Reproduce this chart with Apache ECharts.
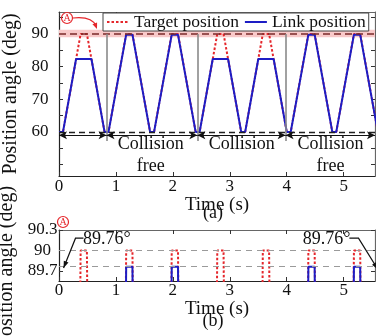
<!DOCTYPE html>
<html><head><meta charset="utf-8">
<script src="https://cdn.jsdelivr.net/npm/echarts@6/dist/echarts.min.js"></script>
<style>html,body{margin:0;padding:0;background:#fff}#c{width:376px;height:336px}</style>
</head><body><div id="c"></div>
<script>
// ---- data ----
const timeTarget = [0, 0.07, 0.38, 0.49, 0.80, 0.87, 1.18, 1.29, 1.60, 1.67, 1.98, 2.09, 2.40, 2.47, 2.78, 2.89, 3.20, 3.27, 3.58, 3.69, 4.00, 4.07, 4.38, 4.49, 4.80, 4.87, 5.18, 5.29, 5.60];
const targetPos  = [60, 60, 90, 90, 60, 60, 90, 90, 60, 60, 90, 90, 60, 60, 90, 90, 60, 60, 90, 90, 60, 60, 90, 90, 60, 60, 90, 90, 60];
const timeLink   = [0, 0.07, 0.30, 0.57, 0.80, 0.87, 1.18, 1.29, 1.60, 1.67, 1.98, 2.09, 2.40, 2.47, 2.70, 2.97, 3.20, 3.27, 3.50, 3.77, 4.00, 4.07, 4.38, 4.49, 4.80, 4.87, 5.18, 5.29, 5.60];
const linkPos    = [60, 60, 82.3, 82.3, 60, 60, 89.76, 89.76, 60, 60, 89.76, 89.76, 60, 60, 82.3, 82.3, 60, 60, 82.3, 82.3, 60, 60, 89.76, 89.76, 60, 60, 89.76, 89.76, 60];
const xTicks = [0, 1, 2, 3, 4, 5];
const topYTicks = [60, 70, 80, 90];
const topYMinorTicks = [50, 55, 60, 65, 70, 75, 80, 85, 90, 95];
const botYTicks = [89.7, 90, 90.3];
const zoneBounds = [0, 0.835, 2.43, 3.98, 5.55];
const dividers = [0.835, 2.43, 3.98];
const zoneLabels = ['Collision\nfree', 'Collision', 'Collision\nfree'];
const zoneCenters = [1.61, 3.21, 4.77];
const peakLabel = '89.76°';
const peakValue = 89.76;

const F = '"Liberation Serif","Times New Roman",serif';
const RED = '#e5262b', BLUE = '#1d1dc4';
const pairs = (ts, vs) => ts.map((t, i) => [t, vs[i]]);
const target = pairs(timeTarget, targetPos);
const link = pairs(timeLink, linkPos);

const chart = echarts.init(document.getElementById('c'), null, {renderer: 'canvas'});
const XMIN = 0, XMAX = 5.55;
function xAx(grid, pos, labels) {
  return {type: 'value', gridIndex: grid, position: pos, min: XMIN, max: XMAX,
    axisLine: {show: true, onZero: false, lineStyle: {color: pos === 'bottom' ? '#222' : '#666', width: 1.2}},
    axisTick: {show: true, inside: true, length: 4, customValues: xTicks, lineStyle: {color: '#333'}},
    axisLabel: {show: labels, customValues: xTicks, fontFamily: F, fontSize: 17, color: '#111', margin: grid === 0 ? 2 : 1},
    splitLine: {show: false},
    name: labels ? 'Time (s)' : '', nameLocation: 'middle', nameGap: grid === 0 ? 10 : 9,
    nameTextStyle: {fontFamily: F, fontSize: 19, color: '#111'}};
}
function yAx(grid, pos, labels, min, max, tickVals, labVals, margin) {
  return {type: 'value', gridIndex: grid, position: pos, min: min, max: max,
    axisLine: {show: true, onZero: false, lineStyle: {color: pos === 'left' ? '#222' : '#666', width: 1.2}},
    axisTick: {show: true, inside: true, length: 4, customValues: tickVals, lineStyle: {color: '#333'}},
    axisLabel: {show: labels, customValues: labVals, fontFamily: F, fontSize: 17, color: '#111', margin: margin, align: 'center',
      formatter: v => String(Math.round(v * 10) / 10)},
    splitLine: {show: false},
    name: labels ? 'Position angle (deg)' : '', nameLocation: 'middle', nameGap: 38,
    nameTextStyle: {fontFamily: F, fontSize: 20, color: '#111', padding: grid === 1 ? [0, 22, 0, 0] : 0}};
}

const option = {
  animation: false,
  backgroundColor: '#fff',
  grid: [
    {left: 59, right: 1, top: 12, height: 164, containLabel: false, outerBoundsMode: 'none'},
    {left: 59, right: 1, top: 230, height: 51, containLabel: false, outerBoundsMode: 'none'}
  ],
  xAxis: [xAx(0, 'bottom', true), xAx(0, 'top', false), xAx(1, 'bottom', true), xAx(1, 'top', false)],
  yAxis: [
    yAx(0, 'left', true, 46.5, 96.7, topYMinorTicks, topYTicks, 19),
    yAx(0, 'right', false, 46.5, 96.7, topYMinorTicks, topYTicks, 8),
    yAx(1, 'left', true, 89.55, 90.3, botYTicks, botYTicks, 16.5),
    yAx(1, 'right', false, 89.55, 90.3, botYTicks, botYTicks, 8)
  ],
  legend: {
    data: ['Target position', 'Link position'],
    left: 103, top: 13, orient: 'horizontal',
    borderColor: '#444', borderWidth: 1, padding: [0, 3, 0, 3],
    itemGap: 5, itemWidth: 22, itemHeight: 12,
    itemStyle: {opacity: 0},
    backgroundColor: '#fff',
    textStyle: {fontFamily: F, fontSize: 17.5, color: '#111', lineHeight: 15},
    selectedMode: false
  },
  series: [
    {type: 'line', xAxisIndex: 0, yAxisIndex: 0, data: [], z: 1, silent: true,
      markArea: {silent: true, itemStyle: {color: '#f8c9c9'}, data: [[{yAxis: 89.0}, {yAxis: 91.3}]]},
      markLine: {silent: true, symbol: ['none', 'none'], label: {show: false},
        data: [
          {yAxis: 90, lineStyle: {color: '#7a2a2a', width: 1.6, type: [7, 4]}},
          {yAxis: 60, lineStyle: {color: '#222', width: 1.3, type: [6, 4]}}
        ]}},
    {type: 'line', xAxisIndex: 0, yAxisIndex: 0, data: [], z: 2, silent: true,
      markLine: {silent: true, symbol: ['none', 'none'], label: {show: false},
        lineStyle: {color: '#8a8a8a', width: 1.6, type: 'solid'},
        data: dividers.map(t => [{coord: [t, 90]}, {coord: [t, 57.2]}])}},
    {type: 'line', xAxisIndex: 0, yAxisIndex: 0, data: [], z: 2, silent: true,
      markLine: {silent: true, symbol: ['arrow', 'arrow'], symbolSize: [6, 8], label: {show: false},
        lineStyle: {color: '#111', width: 1.2, type: 'solid'},
        data: zoneBounds.slice(0, -1).map((a, i) => [{coord: [a, 59]}, {coord: [zoneBounds[i + 1], 59]}])}},
    {name: 'Target position', type: 'line', xAxisIndex: 0, yAxisIndex: 0, data: target, z: 3,
      symbol: 'none', showSymbol: false, lineStyle: {color: RED, width: 2, type: [2.5, 2]}, itemStyle: {color: RED}},
    {name: 'Link position', type: 'line', xAxisIndex: 0, yAxisIndex: 0, data: link, z: 4,
      symbol: 'none', showSymbol: false, lineStyle: {color: BLUE, width: 2}, itemStyle: {color: BLUE}},
    {type: 'line', xAxisIndex: 2, yAxisIndex: 2, data: [], z: 1, silent: true,
      markLine: {silent: true, symbol: ['none', 'none'], label: {show: false},
        lineStyle: {color: '#9a9a9a', width: 1.1, type: [6, 5]},
        data: [{yAxis: 90}, {yAxis: peakValue}]}},
    {name: 'Target (b)', type: 'line', xAxisIndex: 2, yAxisIndex: 2, data: target, z: 3,
      symbol: 'none', lineStyle: {color: RED, width: 2, type: [2.5, 2]}},
    {name: 'Link (b)', type: 'line', xAxisIndex: 2, yAxisIndex: 2, data: link, z: 4,
      symbol: 'none', lineStyle: {color: BLUE, width: 2}}
  ]
};
chart.setOption(option);

// ---- annotations ----
const px = (g, p) => chart.convertToPixel({gridIndex: g}, p);
function head(tip, from, len, w, color) {
  const dx = tip[0] - from[0], dy = tip[1] - from[1];
  const L = Math.hypot(dx, dy), ux = dx / L, uy = dy / L;
  const bx = tip[0] - ux * len, by = tip[1] - uy * len;
  return {type: 'polygon', z: 20, shape: {points: [tip, [bx - uy * w / 2, by + ux * w / 2], [bx + uy * w / 2, by - ux * w / 2]]},
    style: {fill: color}};
}
const g = [];
zoneLabels.forEach((txt, i) => {
  const p = px(0, [zoneCenters[i], 59]);
  g.push({type: 'text', z: 20, x: p[0], y: p[1] - 1.5, style: {text: txt, font: '18px ' + F, fill: '#111',
    textAlign: 'center', textVerticalAlign: 'top', lineHeight: 22}});
});
g.push({type: 'text', z: 20, x: 213, y: 213, style: {text: '(a)', font: '18px ' + F, fill: '#111', textAlign: 'center', textVerticalAlign: 'middle'}});
g.push({type: 'text', z: 20, x: 213, y: 321, style: {text: '(b)', font: '18px ' + F, fill: '#111', textAlign: 'center', textVerticalAlign: 'middle'}});
function circA(cx, cy) {
  g.push({type: 'circle', z: 20, shape: {cx: cx, cy: cy, r: 5.5}, style: {fill: 'none', stroke: RED, lineWidth: 1.2}});
  g.push({type: 'text', z: 20, x: cx, y: cy + 0.5, style: {text: 'A', font: '10px ' + F, fill: RED, textAlign: 'center', textVerticalAlign: 'middle'}});
}
circA(67, 18);
circA(63, 222);
g.push({type: 'bezierCurve', z: 20, shape: {x1: 73, y1: 18, cpx1: 92, cpy1: 16, x2: 96, y2: 26}, style: {stroke: RED, lineWidth: 1.2, fill: 'none'}});
g.push(head([97, 29], [93, 19], 6, 5, RED));
const leftT = px(1, [0.42, 90.16]);
g.push({type: 'text', z: 20, x: leftT[0], y: leftT[1], style: {text: peakLabel, font: '18px ' + F, fill: '#111', textAlign: 'left', textVerticalAlign: 'middle'}});
const l1 = px(1, [0.43, 90.18]), l2 = px(1, [0.29, 90.18]), l3 = px(1, [0.08, peakValue - 0.02]);
g.push({type: 'polyline', z: 20, shape: {points: [l1, l2, l3]}, style: {stroke: '#111', lineWidth: 1.2, fill: 'none'}});
g.push(head(l3, l2, 7, 5, '#111'));
const rightT = px(1, [5.12, 90.16]);
g.push({type: 'text', z: 20, x: rightT[0], y: rightT[1], style: {text: peakLabel, font: '18px ' + F, fill: '#111', textAlign: 'right', textVerticalAlign: 'middle'}});
const r1 = px(1, [5.10, 90.18]), r2 = px(1, [5.26, 90.18]), r3 = px(1, [5.6, peakValue - 0.04]);
g.push({type: 'polyline', z: 20, shape: {points: [r1, r2, r3]}, style: {stroke: '#111', lineWidth: 1.2, fill: 'none'}});
g.push(head(r3, r2, 7, 5, '#111'));
chart.setOption({graphic: g});
</script></body></html>
